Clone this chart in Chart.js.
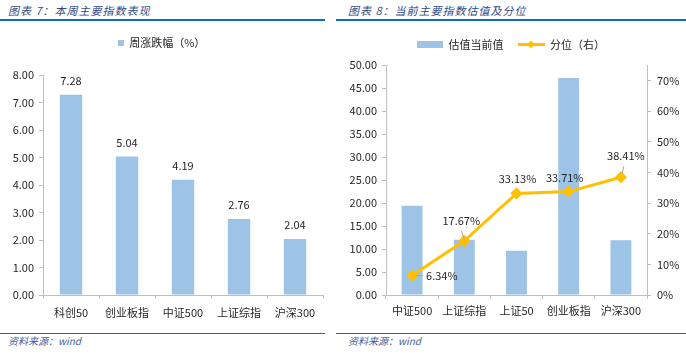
<!DOCTYPE html>
<html><head><meta charset="utf-8">
<script src="https://cdn.jsdelivr.net/npm/chart.js@4.4.1/dist/chart.umd.min.js"></script>
<style>
html,body{margin:0;padding:0;background:#fff;}
body{width:686px;height:353px;position:relative;overflow:hidden;font-family:"Noto Sans CJK SC","Noto Sans",sans-serif;}
.title{position:absolute;top:2px;font-style:italic;font-size:11px;line-height:16px;color:#2f4a86;letter-spacing:1px;white-space:nowrap;}
.rule{position:absolute;height:2px;background:#0a6fc2;}
.rule2{position:absolute;height:1px;background:#0a6fc2;}
.src{position:absolute;top:333px;font-style:italic;font-size:10px;line-height:16px;color:#4a5d96;white-space:nowrap;}
.cv{position:absolute;top:25px;}
</style></head>
<body>
<div class="title" style="left:8px">图表 7：本周主要指数表现</div>
<div class="title" style="left:348px">图表 8：当前主要指数估值及分位</div>
<div class="rule" style="left:0;top:19px;width:325px"></div>
<div class="rule" style="left:336px;top:19px;width:350px"></div>
<div class="rule2" style="left:0;top:333px;width:325px"></div>
<div class="rule2" style="left:336px;top:333px;width:350px"></div>
<div class="src" style="left:8px">资料来源：wind</div>
<div class="src" style="left:348px">资料来源：wind</div>
<div class="cv" style="left:0;width:335px;height:303px"><canvas id="c1"></canvas></div>
<div class="cv" style="left:335px;width:351px;height:303px"><canvas id="c2"></canvas></div>
<script>
// ---- data ----
const weekCategories = ['科创50', '创业板指', '中证500', '上证综指', '沪深300'];
const weekChange = [7.28, 5.04, 4.19, 2.76, 2.04];
const weekSeriesName = '周涨跌幅（%）';

const valCategories = ['中证500', '上证综指', '上证50', '创业板指', '沪深300'];
const valCurrent = [19.4, 12.0, 9.6, 47.2, 11.9];
const valPercentile = [6.34, 17.67, 33.13, 33.71, 38.41];
const valSeriesNames = ['估值当前值', '分位（右）'];

// ---- styles ----
const FONT = '"Noto Sans CJK SC","Noto Sans",sans-serif';
const BAR = '#9DC3E6', LINE = '#FFC000', AXIS = '#BFBFBF', TXT = '#262626';
Chart.defaults.font.family = FONT;
Chart.defaults.font.size = 11;
Chart.defaults.color = TXT;
Chart.defaults.animation = false;

function swatchRect(w, h) {
  const c = document.createElement('canvas'); c.width = w; c.height = h;
  const x = c.getContext('2d'); x.fillStyle = BAR; x.fillRect(0, 0, w, h); return c;
}
function swatchLine(w, h) {
  const c = document.createElement('canvas'); c.width = w; c.height = h;
  const x = c.getContext('2d'); x.strokeStyle = LINE; x.lineWidth = 3;
  x.beginPath(); x.moveTo(0, h / 2); x.lineTo(w, h / 2); x.stroke();
  x.fillStyle = LINE; x.beginPath(); x.moveTo(w / 2, h / 2 - 4); x.lineTo(w / 2 + 4, h / 2); x.lineTo(w / 2, h / 2 + 4); x.lineTo(w / 2 - 4, h / 2); x.closePath(); x.fill();
  return c;
}

const legendGap = {
  id: 'legendGap',
  beforeInit(chart, args, opts) {
    const lg = chart.legend; if (!lg) return;
    const orig = lg.fit;
    lg.fit = function () { orig.call(this); this.height += (opts.extra || 0); };
  }
};

const barLabels = {
  id: 'barLabels',
  afterDatasetsDraw(chart, args, opts) {
    const ctx = chart.ctx; const meta = chart.getDatasetMeta(0);
    ctx.save(); ctx.font = '11px ' + FONT; ctx.fillStyle = TXT; ctx.textAlign = 'center'; ctx.textBaseline = 'middle';
    meta.data.forEach((el, i) => { ctx.fillText(chart.data.datasets[0].data[i].toFixed(2), el.x, el.y - 14); });
    ctx.restore();
  }
};

const lineLabels = {
  id: 'lineLabels',
  afterDatasetsDraw(chart, args, opts) {
    const ctx = chart.ctx; const meta = chart.getDatasetMeta(1);
    const pos = opts.pos;
    ctx.save(); ctx.font = '11px ' + FONT; ctx.fillStyle = TXT; ctx.textBaseline = 'middle';
    meta.data.forEach((el, i) => {
      const p = pos[i];
      if (p.leader) {
        ctx.strokeStyle = '#A6A6A6'; ctx.lineWidth = 1; ctx.beginPath();
        ctx.moveTo(el.x + p.leader[0], el.y + p.leader[1]); ctx.lineTo(el.x + p.leader[2], el.y + p.leader[3]); ctx.stroke();
      }
      ctx.textAlign = p.align || 'center';
      ctx.fillText(chart.data.datasets[1].data[i].toFixed(2) + '%', el.x + p.dx, el.y + p.dy);
    });
    ctx.restore();
  }
};

function xAxis(pad) {
  return {
    grid: { drawOnChartArea: false, drawTicks: true, tickLength: 4, color: AXIS },
    border: { color: AXIS },
    ticks: { color: TXT, font: { size: 11 }, padding: pad, maxRotation: 0, autoSkip: false },
    afterFit(s) { s.height = 33; }
  };
}

new Chart(document.getElementById('c1'), {
  type: 'bar',
  data: {
    labels: weekCategories,
    datasets: [{ label: weekSeriesName, data: weekChange, backgroundColor: BAR, categoryPercentage: 1, barPercentage: 0.4 }]
  },
  options: {
    responsive: true, maintainAspectRatio: false,
    layout: { padding: { top: 0, right: 12, bottom: 0, left: 0 } },
    plugins: {
      tooltip: { enabled: false },
      legendGap: { extra: 17 },
      legend: {
        position: 'top',
        labels: {
          usePointStyle: true, pointStyleWidth: 6, padding: 12, color: TXT, font: { size: 11 },
          generateLabels(chart) {
            return Chart.defaults.plugins.legend.labels.generateLabels(chart).map(it => { it.pointStyle = swatchRect(6, 6); return it; });
          }
        }
      }
    },
    scales: {
      x: xAxis(7),
      y: {
        min: 0, max: 8,
        ticks: { stepSize: 1, callback: v => Number(v).toFixed(2), color: TXT, padding: 5 },
        grid: { drawOnChartArea: false, drawTicks: true, tickLength: 4, color: AXIS },
        border: { color: AXIS },
        afterFit(s) { s.width = 43; }
      }
    }
  },
  plugins: [legendGap, barLabels]
});

new Chart(document.getElementById('c2'), {
  type: 'bar',
  data: {
    labels: valCategories,
    datasets: [
      { type: 'bar', label: valSeriesNames[0], data: valCurrent, backgroundColor: BAR, categoryPercentage: 1, barPercentage: 0.4, yAxisID: 'y', order: 2 },
      { type: 'line', label: valSeriesNames[1], data: valPercentile, borderColor: LINE, backgroundColor: LINE, borderWidth: 3,
        pointStyle: 'rectRot', pointRadius: 4, pointBackgroundColor: LINE, pointBorderColor: LINE, tension: 0, yAxisID: 'y1', order: 1 }
    ]
  },
  options: {
    responsive: true, maintainAspectRatio: false,
    layout: { padding: { top: 0, right: 0, bottom: 0, left: 0 } },
    plugins: {
      tooltip: { enabled: false },
      legendGap: { extra: 5 },
      lineLabels: { pos: [
        { dx: 14, dy: 0, align: 'left', leader: [3, 0, 11, 0] },
        { dx: -3, dy: -20, leader: [-3, -10, 0, -2] },
        { dx: 1, dy: -15 },
        { dx: -4, dy: -14 },
        { dx: 5, dy: -21, leader: [3, -11, 1, -3] }
      ] },
      legend: {
        position: 'top',
        labels: {
          usePointStyle: true, pointStyleWidth: 27, padding: 14, color: TXT, font: { size: 11 },
          sort: (a, b) => a.datasetIndex - b.datasetIndex,
          generateLabels(chart) {
            return Chart.defaults.plugins.legend.labels.generateLabels(chart).map(it => {
              it.pointStyle = it.datasetIndex === 0 ? swatchRect(26, 7) : swatchLine(27, 9); return it;
            });
          }
        }
      }
    },
    scales: {
      x: xAxis(5),
      y: {
        position: 'left', min: 0, max: 50,
        ticks: { stepSize: 5, callback: v => Number(v).toFixed(2), color: TXT, padding: 5 },
        grid: { drawOnChartArea: false, drawTicks: true, tickLength: 4, color: AXIS },
        border: { color: AXIS },
        afterFit(s) { s.width = 51; }
      },
      y1: {
        position: 'right', min: 0, max: 75,
        ticks: { stepSize: 10, callback: v => v + '%', color: TXT, padding: 6 },
        afterBuildTicks(s) { s.ticks = s.ticks.filter(t => t.value % 10 === 0); },
        grid: { drawOnChartArea: false, drawTicks: true, tickLength: 4, color: AXIS },
        border: { color: AXIS },
        afterFit(s) { s.width = 39; }
      }
    }
  },
  plugins: [legendGap, lineLabels]
});
</script>
</body></html>
